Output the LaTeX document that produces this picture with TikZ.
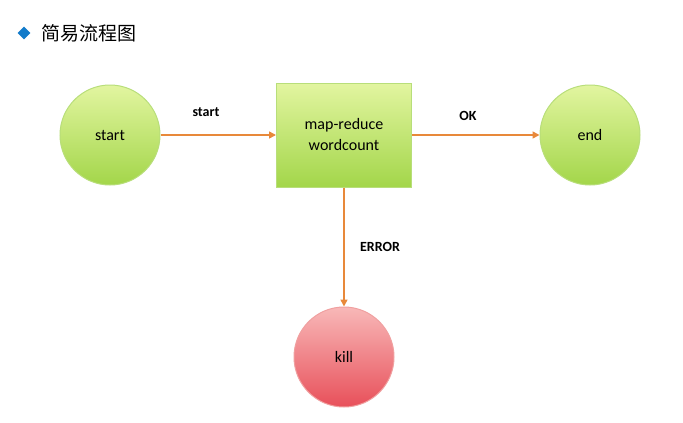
\documentclass[tikz,border=0pt]{standalone}
\usepackage{fontspec}
\setmainfont{Carlito}
\newfontfamily\cjk{Noto Sans CJK SC}
\usetikzlibrary{positioning,shapes.geometric,arrows.meta}
\definecolor{flowline}{HTML}{E8893A}
\definecolor{greentop}{HTML}{E2F5A0}
\definecolor{greenbot}{HTML}{A3D64A}
\definecolor{greenrim}{HTML}{B8DE7A}
\definecolor{redtop}{HTML}{F8B8B8}
\definecolor{redbot}{HTML}{E8505A}
\definecolor{redrim}{HTML}{F0A0A0}
\tikzset{
  state/.style={draw=greenrim,line width=1pt,shape=circle,minimum size=100pt,
    top color=greentop,bottom color=greenbot,font=\fontsize{16}{18}\selectfont},
  killstate/.style={state,draw=redrim,top color=redtop,bottom color=redbot},
  job/.style={draw=greenrim,line width=1pt,minimum width=135pt,minimum height=104pt,
    top color=greentop,bottom color=greenbot,align=center,font=\fontsize{16}{21}\selectfont},
  flow/.style={draw=flowline,line width=1.6pt,-{Triangle[length=7pt,width=7pt]}},
  flowlabel/.style={font=\bfseries\fontsize{14}{16}\selectfont}
}
\begin{document}
\begin{tikzpicture}[x=1pt,y=-1pt]
  \useasboundingbox (0,0) rectangle (683,423);
  % title
  \node[diamond,fill=cyan!60!blue,inner sep=0pt,minimum size=13pt] (mark) at (24,33) {};
  \node[anchor=west,font=\cjk\fontsize{19}{21}\selectfont] (title) at (38,33) {简易流程图};
  % states
  \node[state] (start) at (110,135) {start};
  \node[job] (wc) at (344,135) {map-reduce\\wordcount};
  \node[state] (end) at (590,135) {end};
  \node[killstate] (kill) at (344,357) {kill};
  % transitions
  \draw[flow] (start) -- (wc);
  \draw[flow] (wc) -- (end);
  \draw[flow] (wc) -- (kill);
  \node[flowlabel] (lstart) at (206,112) {start};
  \node[flowlabel] (lok) at (468,116) {OK};
  \node[flowlabel] (lerr) at (380,247) {ERROR};
\end{tikzpicture}
\end{document}
